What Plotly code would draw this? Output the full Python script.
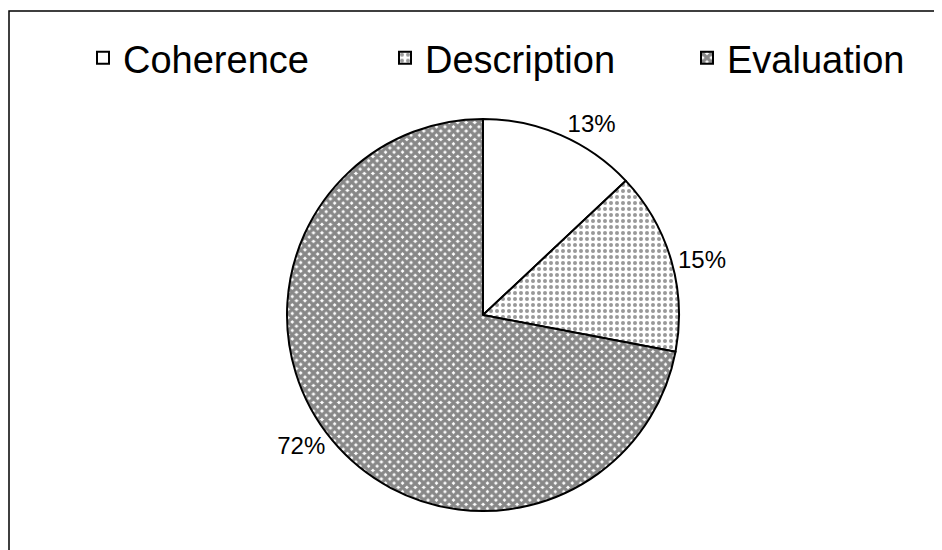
import plotly.graph_objects as go

categories = ["Coherence", "Description", "Evaluation"]
values = [13, 15, 72]

W, H = 942, 550
# positions in paper pixels (page adds an 8px body margin)
cx, cy, r = 475, 307, 196

fig = go.Figure(go.Pie(
    labels=categories,
    values=values,
    sort=False,
    direction="clockwise",
    rotation=0,
    textinfo="percent",
    textposition="outside",
    texttemplate="%{percent:.0%}",
    textfont=dict(family="Liberation Sans, Arial", size=24, color="black"),
    marker=dict(
        colors=["white", "white", "white"],
        line=dict(color="black", width=2),
        pattern=dict(
            shape=["", ".", "x"],
            fgcolor=["black", "#333333", "#111111"],
            bgcolor=["white", "white", "white"],
            size=[8, 6, 6],
            solidity=[0.2, 0.35, 0.8],
            fillmode="overlay",
        ),
    ),
    domain=dict(x=[(cx - r) / W, (cx + r) / W], y=[(H - cy - r) / H, (H - cy + r) / H]),
    showlegend=True,
    hoverinfo="label+percent",
))

fig.update_layout(
    width=W, height=H,
    margin=dict(l=0, r=0, t=0, b=0, autoexpand=False),
    paper_bgcolor="white",
    plot_bgcolor="white",
    showlegend=True,
    legend=dict(
        orientation="h",
        x=75 / W, xanchor="left",
        y=(H - 50) / H, yanchor="middle",
        font=dict(family="Liberation Sans, Arial", size=38, color="black"),
        entrywidth=257, entrywidthmode="pixels",
        traceorder="normal",
        bgcolor="rgba(0,0,0,0)",
    ),
    shapes=[dict(
        type="rect", xref="paper", yref="paper",
        x0=1 / W, x1=1.05, y0=-0.05, y1=(H - 3) / H,
        line=dict(color="black", width=1.5),
        fillcolor="rgba(0,0,0,0)",
        layer="below",
    )],
)

fig.write_html("out.html")
